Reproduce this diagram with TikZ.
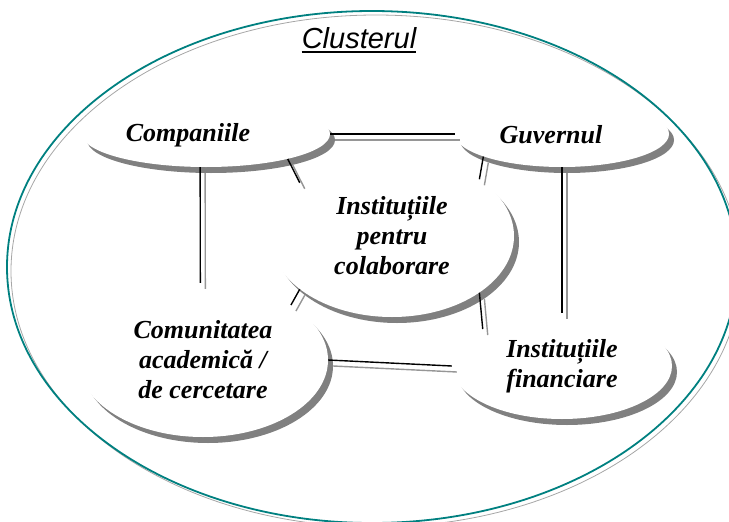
\documentclass[tikz,border=0pt]{standalone}
\usepackage{fontspec}
\setsansfont{Liberation Sans}
\newfontfamily\tnr{Liberation Serif}
\usetikzlibrary{shapes.geometric,shadows}
\definecolor{shadowgray}{RGB}{128,128,128}
\definecolor{lineshadow}{RGB}{150,150,150}
\begin{document}
\begin{tikzpicture}[x=1pt,y=-1pt,
  lbl/.style={font=\tnr\bfseries\itshape\fontsize{26}{30}\selectfont, align=center, inner sep=0pt},
  blob/.style={ellipse, fill=white, inner sep=0pt,
    drop shadow={shadow xshift=5pt, shadow yshift=-6pt, fill=shadowgray, opacity=1}},
  conn/.style={line width=1.4pt, black,
    preaction={draw=lineshadow, line width=1.4pt, transform canvas={xshift=5pt,yshift=-6pt}}}
]
\useasboundingbox (0,0) rectangle (729,522);
\clip (0,0) rectangle (729,522);
% outer cluster ellipse
\draw[black!35, line width=0.8pt] (376,271) ellipse [x radius=365pt, y radius=256pt];
\draw[teal, line width=1.8pt] (372,267) ellipse [x radius=365pt, y radius=256pt];
% title
\node[inner sep=0pt, anchor=base, font=\sffamily\itshape\fontsize{29}{32}\selectfont] (title) at (359,48) {Clusterul};
\draw[line width=2pt] ([yshift=-4pt]title.base west) -- ([yshift=-4pt]title.base east);
% ellipses
\node[blob, minimum width=248pt, minimum height=66pt] (comp) at (206,134) {};
\node[blob, minimum width=214pt, minimum height=66pt] (guv) at (562,134) {};
\node[blob, lbl, minimum width=244pt, minimum height=162pt] (inst) at (392,236) {Instituțiile\\pentru\\colaborare};
\node[blob, lbl, minimum width=250pt, minimum height=154pt] (comm) at (203,360) {Comunitatea\\academică /\\de cercetare};
\node[blob, lbl, minimum width=220pt, minimum height=106pt] (fin) at (562,366) {Instituțiile\\financiare};
\node[lbl] (compT) at (188,135) {Companiile};
\node[lbl] (guvT) at (551,135) {Guvernul};
% connectors
\draw[conn] (comp.east) -- (guv.west);
\draw[conn] (comp.-17) -- (inst.150);
\draw[conn] (guv.-164) -- (inst.33);
\draw[conn] (comp.-100) -- (comm.92);
\draw[conn] (guv.south) -- (fin.north);
\draw[conn] (inst.-150) -- (comm.32);
\draw[conn] (inst.-33) -- (fin.155);
\draw[conn] (comm.east) -- (fin.west);
\end{tikzpicture}
\end{document}
